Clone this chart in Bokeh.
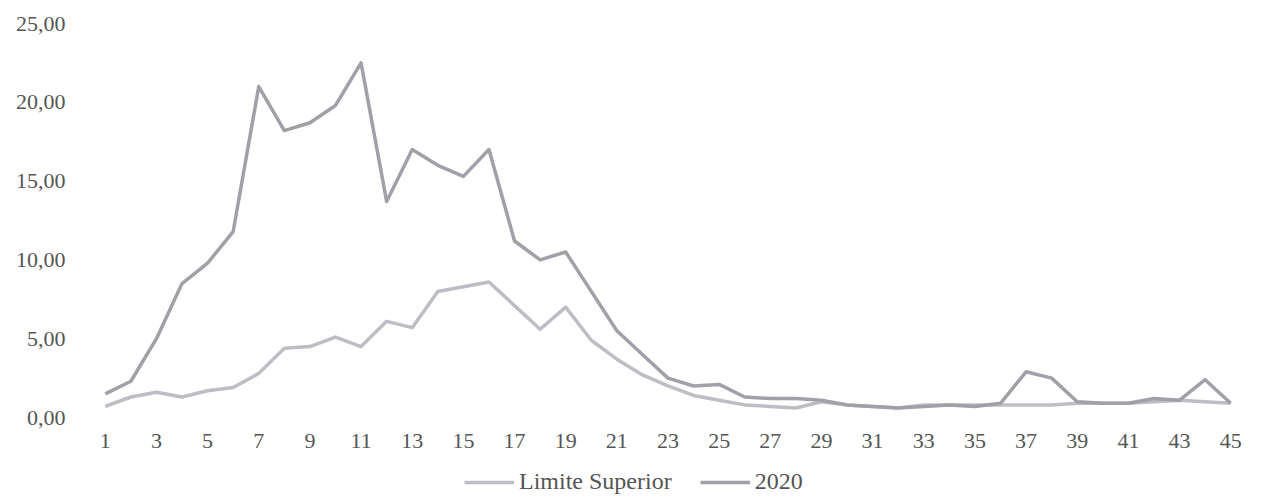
from bokeh.plotting import figure
from bokeh.models import Range1d, Legend, LegendItem, FixedTicker, ColumnDataSource
from bokeh.embed import file_html
from bokeh.resources import INLINE

weeks = list(range(1, 46))
limite_superior = [0.7, 1.3, 1.6, 1.3, 1.7, 1.9, 2.8, 4.4, 4.5, 5.1,
                   4.5, 6.1, 5.7, 8.0, 8.3, 8.6, 7.1, 5.6, 7.0, 4.9,
                   3.7, 2.7, 2.0, 1.4, 1.1, 0.8, 0.7, 0.6, 1.0, 0.8,
                   0.7, 0.6, 0.8, 0.8, 0.8, 0.8, 0.8, 0.8, 0.9, 0.9,
                   0.9, 1.0, 1.1, 1.0, 0.9]
serie_2020 = [1.5, 2.3, 5.0, 8.5, 9.8, 11.8, 21.0, 18.2, 18.7, 19.8,
              22.5, 13.7, 17.0, 16.0, 15.3, 17.0, 11.2, 10.0, 10.5, 8.0,
              5.5, 4.0, 2.5, 2.0, 2.1, 1.3, 1.2, 1.2, 1.1, 0.8,
              0.7, 0.6, 0.7, 0.8, 0.7, 0.9, 2.9, 2.5, 1.0, 0.9,
              0.9, 1.2, 1.1, 2.4, 0.9]
y_ticks = [0, 5, 10, 15, 20, 25]
y_tick_labels = {0: "0,00", 5: "5,00", 10: "10,00", 15: "15,00", 20: "20,00", 25: "25,00"}
x_ticks = list(range(1, 46, 2))

src = ColumnDataSource(dict(x=weeks, lim=limite_superior, y20=serie_2020))

FONT = "Liberation Serif"
TXT = "#555555"

# frame spans the whole height; the area below y=0 holds the x labels and the legend
p = figure(frame_width=1151, frame_height=479, x_range=Range1d(0.5, 45.5),
           y_range=Range1d(-25 * 85 / 394, 25),
           output_backend="svg", toolbar_location=None,
           min_border_left=92, min_border_right=19, min_border_top=23, min_border_bottom=0)
p.outline_line_color = None
p.background_fill_color = "white"
p.border_fill_color = "white"
p.xgrid.visible = False
p.ygrid.visible = False

for ax in (p.xaxis[0], p.yaxis[0]):
    ax.axis_line_color = None
    ax.major_tick_line_color = None
    ax.minor_tick_line_color = None
    ax.major_tick_out = 0
    ax.major_tick_in = 0
    ax.minor_tick_out = 0
    ax.major_label_text_font = FONT
    ax.major_label_text_font_size = "22px"
    ax.major_label_text_color = TXT

p.yaxis.ticker = FixedTicker(ticks=y_ticks)
p.yaxis.major_label_overrides = y_tick_labels
p.yaxis.major_label_standoff = 27
p.xaxis.ticker = FixedTicker(ticks=x_ticks)
p.xaxis.major_label_standoff = 16
p.xaxis.fixed_location = 0

r_lim = p.line("x", "lim", source=src, line_color="#bdbdc4", line_width=3.5, line_join="round")
r_20 = p.line("x", "y20", source=src, line_color="#a0a0a8", line_width=3.5, line_join="round")

legend = Legend(items=[LegendItem(label="Limite Superior", renderers=[r_lim]),
                       LegendItem(label="2020", renderers=[r_20])],
                orientation="horizontal", location=(372, 7),
                label_text_font=FONT, label_text_font_size="24px", label_text_color=TXT,
                glyph_width=50, glyph_height=20, spacing=28, padding=0, margin=0,
                border_line_color=None, background_fill_alpha=0)
p.add_layout(legend, "center")

open("out.html", "w").write(file_html(p, INLINE))
